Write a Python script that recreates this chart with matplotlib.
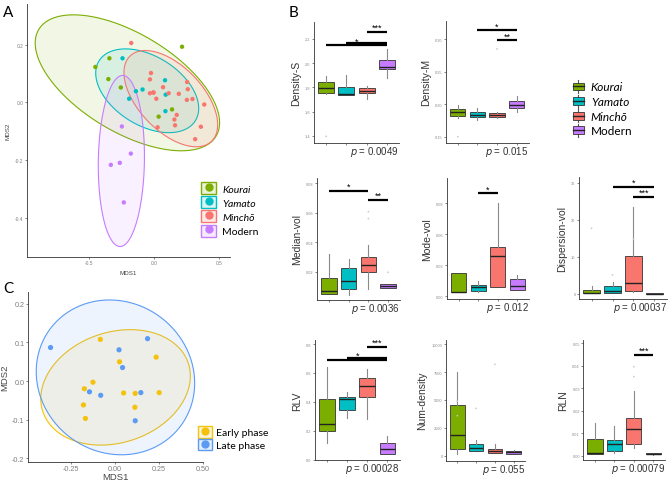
import numpy as np
import matplotlib
matplotlib.use("Agg")
import matplotlib.pyplot as plt
from matplotlib.patches import Polygon, Rectangle, Patch
from matplotlib.lines import Line2D
from matplotlib.legend_handler import HandlerTuple, HandlerBase

W, H = 672, 481

groups = ["Kourai", "Yamato", "Minchō", "Modern"]
group_colors = ["#7CAE00", "#00BFC4", "#F8766D", "#C77CFF"]

# ---- panel A: MDS of the four groups
kourai_x = [-0.451, -0.343, -0.351, -0.255, 0.216, 0.139, 0.036]
kourai_y = [0.123, 0.153, 0.081, 0.052, 0.193, -0.024, -0.049]
yamato_x = [-0.242, -0.191, -0.139, -0.088, 0.085, 0.090, 0.088]
yamato_y = [0.153, 0.013, 0.039, 0.045, 0.077, 0.027, -0.030]
mincho_x = [-0.175, -0.023, -0.031, -0.005, -0.031, -0.003, 0.018, 0.070, 0.113, 0.191, 0.255,
            0.260, 0.253, 0.296, 0.387, 0.175, 0.157, 0.162, 0.028, 0.361, 0.317]
mincho_y = [0.206, 0.102, 0.080, 0.035, 0.032, 0.034, 0.013, 0.053, 0.032, 0.030, 0.071,
            0.046, 0.009, 0.012, -0.007, -0.043, -0.059, -0.079, -0.086, -0.084, -0.127]
modern_x = [-0.247, -0.178, -0.263, -0.332, -0.232]
modern_y = [-0.083, -0.177, -0.209, -0.216, -0.346]

# ---- panel C: MDS by phase
phases = ["Early phase", "Late phase"]
phase_colors = ["#F4C20D", "#5B9BF5"]
early_x = [-0.083, 0.026, 0.234, -0.125, -0.174, 0.049, 0.115, 0.251, -0.179, 0.113, -0.168]
early_y = [0.108, 0.050, 0.062, -0.003, -0.020, -0.031, -0.032, -0.030, -0.062, -0.068, -0.097]
late_x = [-0.366, 0.185, 0.023, 0.043, -0.145, -0.081, 0.147, 0.115]
late_y = [0.087, 0.110, 0.081, 0.035, -0.028, -0.037, -0.030, -0.103]

# ---- panel B: box stats per group [whislo, q1, med, q3, whishi]
density_s = [[1.75, 1.756, 1.792, 1.849, 1.893], [1.74, 1.740, 1.748, 1.808, 1.904],
             [1.704, 1.751, 1.773, 1.792, 1.814], [1.88, 1.95, 1.97, 2.025, 2.12]]
density_s_pts = [[1.397], [], [], []]
density_s_sig = [(3, 4, 2.26, "***"), (2, 4, 2.17, ""), (1, 4, 2.148, "*")]

density_m = [[0.179, 0.1818, 0.1875, 0.192, 0.1987], [0.176, 0.180, 0.184, 0.1875, 0.1946],
             [0.178, 0.180, 0.184, 0.186, 0.1875], [0.1885, 0.194, 0.1993, 0.2044, 0.2126]]
density_m_pts = [[0.150], [], [0.285], []]
density_m_sig = [(2, 4, 0.3134, "*"), (3, 4, 0.298, "**")]

median_vol = [[0.0054, 0.0054, 0.0072, 0.0162, 0.0319], [0.0047, 0.0085, 0.0137, 0.0227, 0.029],
              [0.0085, 0.0202, 0.0245, 0.0299, 0.0382], [0.0092, 0.0092, 0.0108, 0.0119, 0.0119]]
median_vol_pts = [[], [], [0.0607, 0.056], [0.0198]]
median_vol_sig = [(1, 3, 0.0746, "*"), (3, 4, 0.0685, "**")]

mode_vol = [[0.0039, 0.0039, 0.0039, 0.022, 0.022], [0.0039, 0.0049, 0.0088, 0.0107, 0.0143],
            [0.0084, 0.0084, 0.0385, 0.0476, 0.09], [0.0062, 0.0062, 0.010, 0.0165, 0.0207]]
mode_vol_pts = [[], [], [], []]
mode_vol_sig = [(2, 3, 0.0997, "*")]

dispersion_vol = [[0.09, 0.09, 0.27, 1.08, 2.16], [0.09, 0.27, 0.63, 1.98, 3.06],
                  [0.36, 0.8, 2.8, 10.1, 23.4], [0.02, 0.03, 0.05, 0.07, 0.1]]
dispersion_vol_pts = [[17.7], [5.1], [14.8], []]
dispersion_vol_sig = [(2, 4, 29.0, "*"), (3, 4, 26.3, "***")]

rlv = [[0.117, 0.195, 0.246, 0.416, 0.644], [0.287, 0.343, 0.421, 0.434, 0.471],
       [0.283, 0.430, 0.508, 0.563, 0.628], [0.041, 0.041, 0.074, 0.115, 0.163]]
rlv_pts = [[], [], [], []]
rlv_sig = [(3, 4, 0.779, "***"), (2, 4, 0.703, ""), (1, 4, 0.690, "*")]

num_density = [[180, 629, 1826, 4520, 7485], [389, 389, 718, 1018, 1377],
               [210, 210, 389, 599, 1018], [180, 180, 300, 449, 509]]
num_density_pts = [[4880, 3590], [4250], [8200], []]
num_density_sig = []

rln = [[0.0007, 0.0007, 0.0013, 0.0074, 0.0144], [0.0013, 0.0021, 0.0052, 0.007, 0.0134],
       [0.0034, 0.0053, 0.0117, 0.0168, 0.0286], [0.0005, 0.0007, 0.0007, 0.0012, 0.0012]]
rln_pts = [[], [], [0.0396, 0.0352], []]
rln_sig = [(3, 4, 0.0447, "***")]

p_values = ["0.0049", "0.015", "0.0036", "0.012", "0.00037", "0.00028", "0.055", "0.00079"]

# 95% F quantiles qf(0.95, 2, n-1) used by stat_ellipse
f95 = {4: 6.944, 6: 5.143, 7: 4.737, 10: 4.103, 20: 3.493}

plt.rcParams["font.family"] = ["Liberation Sans", "DejaVu Sans"]
LEG_FONT = ["Lato", "DejaVu Sans"]


def px_axes(fig, l, t, r, b):
    return fig.add_axes([l / W, 1 - b / H, (r - l) / W, (b - t) / H])


def cov_trob(pts, nu=5, maxit=25, tol=0.01):
    n, p = pts.shape
    wt = np.ones(n)
    loc = pts.mean(0)
    w = np.sqrt(wt)
    for _ in range(maxit):
        w0 = w
        X = pts - loc
        M = np.sqrt(w / w.sum())[:, None] * X
        _, d, vt = np.linalg.svd(M, full_matrices=False)
        wX = X @ vt.T @ np.diag(1 / d)
        Q = (wX ** 2).sum(1)
        w = wt * (nu + p) / (nu + Q)
        loc = (w[:, None] * pts).sum(0) / w.sum()
        if np.all(np.abs(w - w0) < tol):
            break
    sx = np.sqrt(w)[:, None] * X
    return loc, sx.T @ sx / wt.sum()


def draw_ellipse(ax, x, y, color, alpha):
    pts = np.column_stack([x, y])
    center, cov = cov_trob(pts)
    radius = np.sqrt(2 * f95[len(x) - 1])
    t = np.linspace(0, 2 * np.pi, 100)
    circle = np.column_stack([np.cos(t), np.sin(t)])
    R = np.linalg.cholesky(cov).T
    ell = center + radius * circle @ R
    ax.add_patch(Polygon(ell, closed=True, facecolor=color, alpha=alpha, edgecolor="none"))
    ax.add_patch(Polygon(ell, closed=True, facecolor="none", edgecolor=color, lw=0.8))


def style_axes(ax, tick_size, tick_color="#7f7f7f"):
    for s in ["top", "right"]:
        ax.spines[s].set_visible(False)
    for s in ["left", "bottom"]:
        ax.spines[s].set_color("#333333")
        ax.spines[s].set_linewidth(0.6)
    ax.tick_params(length=1.5, width=0.5, colors="#555555", labelsize=tick_size,
                   labelcolor=tick_color, pad=1)


class BoxHandler(HandlerBase):
    def create_artists(self, legend, orig_handle, xd, yd, width, height, fontsize, trans):
        c = orig_handle.get_facecolor()
        x0, y0 = -xd, -yd
        cx = x0 + width / 2
        vl = Line2D([cx, cx], [y0, y0 + height], color="#555555", lw=0.8, transform=trans)
        rect = Rectangle((x0 + 0.05 * width, y0 + 0.2 * height), 0.9 * width, 0.6 * height,
                         facecolor=c, edgecolor="#333333", lw=0.6, transform=trans)
        med = Line2D([x0 + 0.05 * width, x0 + 0.95 * width], [y0 + height / 2] * 2,
                     color="#222222", lw=1.0, transform=trans)
        return [vl, rect, med]


def point_key(c):
    return (Patch(facecolor=c, alpha=0.15, edgecolor="none"),
            Patch(facecolor="none", edgecolor=c, lw=1.0),
            Line2D([], [], marker="o", color=c, ls="", markersize=5))


fig = plt.figure(figsize=(W / 100, H / 100), dpi=100)

# ---------------- panel A
axA = px_axes(fig, 27, 5, 230, 258)
a_x = [kourai_x, yamato_x, mincho_x, modern_x]
a_y = [kourai_y, yamato_y, mincho_y, modern_y]
for xs, ys, c in zip(a_x, a_y, group_colors):
    draw_ellipse(axA, xs, ys, c, 0.1)
for xs, ys, c in zip(a_x, a_y, group_colors):
    axA.scatter(xs, ys, s=10, color=c, edgecolors="none", zorder=3)
axA.set_xlim(-0.977, 0.585)
axA.set_ylim(-0.535, 0.341)
axA.set_xticks([-0.5, 0.0, 0.5])
axA.set_xticklabels(["-0.5", "0.0", "0.5"])
axA.set_yticks([-0.4, -0.2, 0.0, 0.2])
axA.set_yticklabels(["-0.4", "-0.2", "0.0", "0.2"])
style_axes(axA, 3.5)
axA.set_xlabel("MDS1", fontsize=4.5, color="#444444", labelpad=3)
axA.set_ylabel("MDS2", fontsize=4.5, color="#444444", labelpad=3)
legA = axA.legend([point_key(c) for c in group_colors], groups,
                  handler_map={tuple: HandlerTuple(ndivide=1)},
                  loc="upper left", bbox_to_anchor=(196 / W, 1 - 178 / H),
                  bbox_transform=fig.transFigure, frameon=False, handlelength=1.4,
                  handleheight=1.4, labelspacing=0.2, handletextpad=0.6, borderpad=0,
                  prop={"family": LEG_FONT, "size": 7.5})
for i, t in enumerate(legA.get_texts()):
    if i < 3:
        t.set_style("italic")

# ---------------- panel C
axC = px_axes(fig, 28, 293, 203, 463)
c_x = [early_x, late_x]
c_y = [early_y, late_y]
for xs, ys, c in zip(c_x, c_y, phase_colors):
    draw_ellipse(axC, xs, ys, c, 0.1)
for xs, ys, c in zip(c_x, c_y, phase_colors):
    axC.scatter(xs, ys, s=14, color=c, edgecolors="none", zorder=3)
axC.set_xlim(-0.494, 0.50)
axC.set_ylim(-0.21, 0.231)
axC.set_xticks([-0.25, 0.0, 0.25, 0.50])
axC.set_xticklabels(["-0.25", "0.00", "0.25", "0.50"])
axC.set_yticks([-0.2, -0.1, 0.0, 0.1, 0.2])
axC.set_yticklabels(["-0.2", "-0.1", "0.0", "0.1", "0.2"])
style_axes(axC, 5.2)
axC.tick_params(axis="x", pad=0.5)
axC.set_xlabel("MDS1", fontsize=6.8, color="#444444", labelpad=0)
axC.set_ylabel("MDS2", fontsize=6.8, color="#444444", labelpad=2)
axC.legend([point_key(c) for c in phase_colors], phases,
           handler_map={tuple: HandlerTuple(ndivide=1)},
           loc="upper left", bbox_to_anchor=(193 / W, 1 - 422 / H),
           bbox_transform=fig.transFigure, frameon=False, handlelength=1.3,
           handleheight=1.3, labelspacing=0.15, handletextpad=0.4, borderpad=0,
           prop={"family": LEG_FONT, "size": 7.5})

# ---------------- panel B
panels = [
    ("Density-S", density_s, density_s_pts, density_s_sig, (314, 23, 399, 144),
     (1.342, 2.34), [1.4, 1.6, 1.8, 2.0, 2.2], ["1.4", "1.6", "1.8", "2.0", "2.2"]),
    ("Density-M", density_m, density_m_pts, density_m_sig, (446, 22, 528.5, 143.5),
     (0.141, 0.328), [0.15, 0.20, 0.25, 0.30], ["0.15", "0.20", "0.25", "0.30"]),
    ("Median-vol", median_vol, median_vol_pts, median_vol_sig, (317, 179.3, 400, 300.7),
     (0.0013, 0.0832), [0.02, 0.04, 0.06, 0.08], ["0.02", "0.04", "0.06", "0.08"]),
    ("Mode-vol", mode_vol, mode_vol_pts, mode_vol_sig, (447, 179.3, 529, 300),
     (-0.0029, 0.1142), [0.0, 0.03, 0.06, 0.09], ["0.00", "0.03", "0.06", "0.09"]),
    ("Dispersion-vol", dispersion_vol, dispersion_vol_pts, dispersion_vol_sig,
     (579, 178.3, 667, 300), (-1.43, 31.5), [0, 10, 20, 30], ["0", "10", "20", "30"]),
    ("RLV", rlv, rlv_pts, rlv_sig, (315, 340.7, 399.5, 461),
     (-0.003, 0.83), [0.0, 0.2, 0.4, 0.6, 0.8], ["0.0", "0.2", "0.4", "0.6", "0.8"]),
    ("Num-density", num_density, num_density_pts, num_density_sig, (446, 340.7, 525, 461.7),
     (-448, 10412), [0, 2500, 5000, 7500, 10000], ["0", "2500", "5000", "7500", "10000"]),
    ("RLN", rln, rln_pts, rln_sig, (583.4, 340.7, 665, 461),
     (-0.0019, 0.0516), [0.0, 0.01, 0.02, 0.03, 0.04, 0.05],
     ["0.00", "0.01", "0.02", "0.03", "0.04", "0.05"]),
]

for (label, stats, pts, sigs, rect, ylim, yt, ytl), pv in zip(panels, p_values):
    ax = px_axes(fig, *rect)
    bstats = [dict(whislo=s[0], q1=s[1], med=s[2], q3=s[3], whishi=s[4], fliers=[])
              for s in stats]
    bp = ax.bxp(bstats, positions=[1, 2, 3, 4], widths=0.78, patch_artist=True,
                showfliers=False, showcaps=False,
                boxprops=dict(edgecolor="#333333", linewidth=0.6),
                whiskerprops=dict(color="#8a8a8a", linewidth=0.8),
                medianprops=dict(color="#222222", linewidth=1.0))
    for patch, c in zip(bp["boxes"], group_colors):
        patch.set_facecolor(c)
    for i, vals in enumerate(pts):
        if vals:
            ax.scatter([i + 1] * len(vals), vals, s=1.5, color="#c8c8c8", edgecolors="none", zorder=3)
    for g1, g2, y, lab in sigs:
        ax.plot([g1, g2], [y, y], color="black", lw=1.6, solid_capstyle="butt", zorder=4)
        if lab:
            ax.text((g1 + g2) / 2, y, lab, ha="center", va="bottom", fontsize=6.5, zorder=5)
    ax.set_xlim(0.4, 4.6)
    ax.set_ylim(*ylim)
    ax.set_yticks(yt)
    ax.set_yticklabels(ytl)
    ax.set_xticks([1, 2, 3, 4])
    ax.set_xticklabels([])
    style_axes(ax, 2.8, "#8a8a8a")
    ax.set_ylabel(label, fontsize=7.5, color="#333333", labelpad=3)
    ax.text(1.0, -0.01, r"$p$ = " + pv, transform=ax.transAxes, ha="right", va="top",
            fontsize=7, color="#333333")

# legend for B
handles_b = [Patch(facecolor=c) for c in group_colors]
legB = fig.legend(handles_b, groups, handler_map={Patch: BoxHandler()},
                  loc="upper left", bbox_to_anchor=(572 / W, 1 - 81 / H),
                  frameon=False, handlelength=1.1, handleheight=1.3, labelspacing=0.15,
                  handletextpad=0.5, borderpad=0, borderaxespad=0,
                  prop={"family": LEG_FONT, "size": 8.5})
for i, t in enumerate(legB.get_texts()):
    if i < 3:
        t.set_style("italic")

# panel letters
for txt, x, y in [("A", 8, 13), ("B", 293, 13), ("C", 8, 289)]:
    fig.text(x / W, 1 - y / H, txt, fontsize=11, family=LEG_FONT, va="center", ha="center")

fig.savefig("out.png", dpi=100)
